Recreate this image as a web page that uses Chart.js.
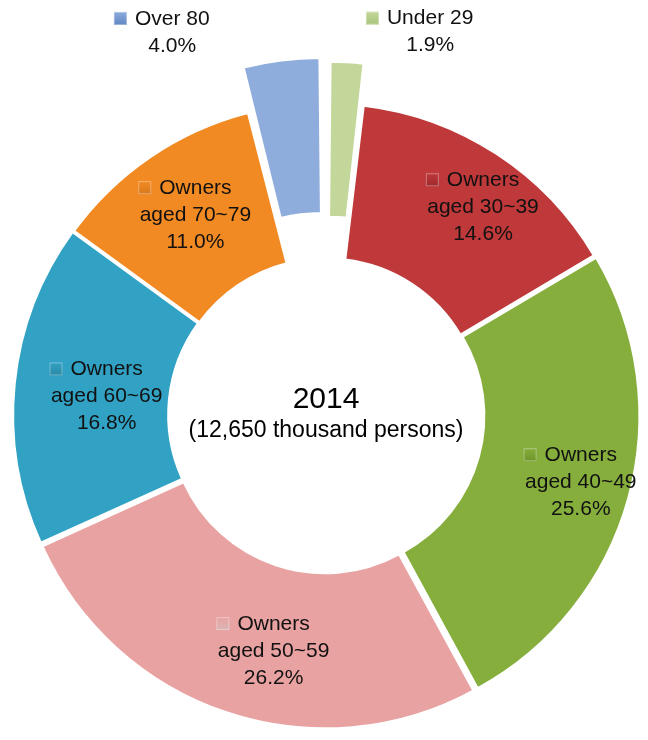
<!DOCTYPE html>
<html>
<head>
<meta charset="utf-8">
<script src="https://cdn.jsdelivr.net/npm/chart.js@4.4.0/dist/chart.umd.min.js"></script>
<style>
  html, body { margin: 0; padding: 0; background: #fff; }
  #wrap { width: 648px; height: 740px; position: relative; }
</style>
</head>
<body>
<div id="wrap"><canvas id="chart"></canvas></div>
<script>
const categories = ['Under 29', 'Owners aged 30~39', 'Owners aged 40~49', 'Owners aged 50~59', 'Owners aged 60~69', 'Owners aged 70~79', 'Over 80'];
const shares = [1.9, 14.6, 25.6, 26.2, 16.8, 11.0, 4.0];
const centerTitle = '2014';
const centerSubtitle = '(12,650 thousand persons)';

const sliceColors = ['#c4d79b', '#bf383a', '#86ae3d', '#e8a2a1', '#32a2c4', '#f28a24', '#8eacdc'];
const keyColors = ['#a9c47a', '#9e2a2c', '#6e952a', '#d9b5b4', '#2a88a6', '#d9791c', '#5f86c4'];
// Chart.js moves an arc by about half its offset value
const sliceOffsets = [92, 6, 14, 14, 10, 6, 108];

// where each label sits: radius as share of outer radius, angle shift in degrees
const labelPlace = [
  { r: 1.28, da: 11.8 },
  { r: 0.84, da: 4 },
  { r: 0.85, da: -0.6 },
  { r: 0.78, da: -6 },
  { r: 0.71, da: -1 },
  { r: 0.77, da: 1 },
  { r: 1.33, da: -14.7 }
];

const ctx = document.getElementById('chart').getContext('2d');
const font = '"Liberation Sans", Arial, sans-serif';

function splitLabel(name) {
  if (name.startsWith('Owners ')) return ['Owners', name.slice(7)];
  return [name];
}

const labelPlugin = {
  id: 'sliceLabels',
  afterDatasetsDraw(chart) {
    const c = chart.ctx;
    const arcs = chart.getDatasetMeta(0).data;
    const R = arcs[0].outerRadius;
    c.save();
    c.textAlign = 'center';
    c.textBaseline = 'middle';
    c.font = '21px ' + font;
    arcs.forEach((arc, i) => {
      const mid = (arc.startAngle + arc.endAngle) / 2 + labelPlace[i].da * Math.PI / 180;
      const r = R * labelPlace[i].r;
      const x = arc.x + Math.cos(mid) * r;
      const y = arc.y + Math.sin(mid) * r;
      const lines = splitLabel(categories[i]).concat(shares[i].toFixed(1) + '%');
      const lh = 27;
      const top = y - (lines.length - 1) * lh / 2;
      c.fillStyle = '#111';
      lines.forEach((t, k) => c.fillText(t, x, top + k * lh));
      // small legend key before the first line
      const w = c.measureText(lines[0]).width;
      const ix = x - w / 2 - 21, iy = top - 7;
      const g = c.createLinearGradient(ix, iy, ix, iy + 13);
      g.addColorStop(0, sliceColors[i]);
      g.addColorStop(1, keyColors[i]);
      c.fillStyle = g;
      c.fillRect(ix, iy, 13, 13);
      c.strokeStyle = 'rgba(255,255,255,0.35)';
      c.lineWidth = 1;
      c.strokeRect(ix + 0.5, iy + 0.5, 12, 12);
    });
    const a = arcs[0];
    c.fillStyle = '#000';
    c.font = '30px ' + font;
    c.fillText(centerTitle, a.x, a.y - 15);
    c.font = '23px ' + font;
    c.fillText(centerSubtitle, a.x, a.y + 16);
    c.restore();
  }
};

const chart = new Chart(ctx, {
  type: 'doughnut',
  data: {
    labels: categories,
    datasets: [{
      data: shares,
      backgroundColor: sliceColors,
      borderColor: '#ffffff',
      borderWidth: 2,
      offset: sliceOffsets
    }]
  },
  options: {
    responsive: true,
    maintainAspectRatio: false,
    animation: false,
    radius: 310,
    cutout: '50%',
    layout: {
      padding: { top: 90, left: 4, right: 0, bottom: 0 }
    },
    plugins: {
      legend: { display: false },
      tooltip: { enabled: false }
    }
  },
  plugins: [labelPlugin]
});
</script>
</body>
</html>
